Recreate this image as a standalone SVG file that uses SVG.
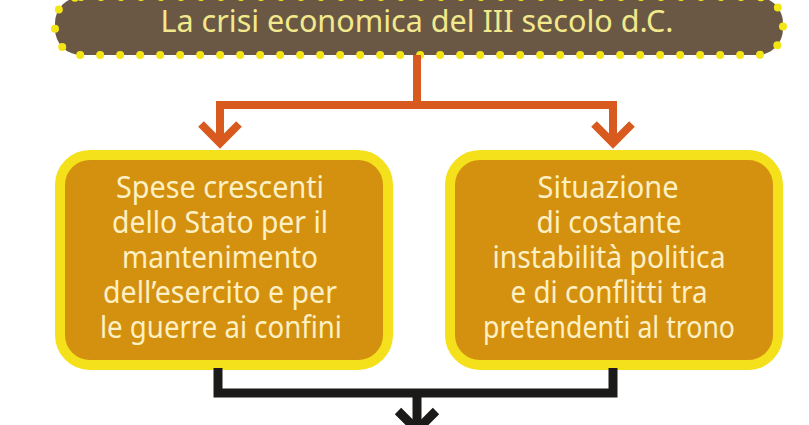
<svg xmlns="http://www.w3.org/2000/svg" width="809" height="425" viewBox="0 0 809 425">
<style>
.ttl{font-family:"Noto Sans","Open Sans",sans-serif;font-size:31px;fill:#f2e98c;text-anchor:middle}
.box{fill:#d4900f;stroke:#f4e11b;stroke-width:10}
.bt{font-family:"Noto Sans","Open Sans",sans-serif;font-size:30px;fill:#fdf0c4;text-anchor:middle}
.or{fill:none;stroke:#d85a1e;stroke-width:8}
.bk{fill:none;stroke:#1c1a18;stroke-width:9}
</style>
<rect width="809" height="425" fill="#ffffff"/>
<g id="title">
<rect x="55" y="-3" width="728" height="58" rx="26" fill="#6b5844" stroke="#f4e614" stroke-width="8" stroke-dasharray="0 20" stroke-linecap="round"/>
<text class="ttl" x="417" y="32" textLength="513" lengthAdjust="spacingAndGlyphs">La crisi economica del III secolo d.C.</text>
</g>
<g id="box-left">
<rect class="box" x="60" y="155" width="328" height="210" rx="30"/>
<text class="bt" x="220" y="198" textLength="208" lengthAdjust="spacingAndGlyphs">Spese crescenti</text>
<text class="bt" x="220" y="233" textLength="216" lengthAdjust="spacingAndGlyphs">dello Stato per il</text>
<text class="bt" x="220" y="268" textLength="196" lengthAdjust="spacingAndGlyphs">mantenimento</text>
<text class="bt" x="220" y="303" textLength="234" lengthAdjust="spacingAndGlyphs">dell’esercito e per</text>
<text class="bt" x="221" y="338" textLength="242" lengthAdjust="spacingAndGlyphs">le guerre ai confini</text>
</g>
<g id="box-right">
<rect class="box" x="450" y="155" width="328" height="210" rx="30"/>
<text class="bt" x="608" y="198" textLength="141" lengthAdjust="spacingAndGlyphs">Situazione</text>
<text class="bt" x="609" y="233" textLength="145" lengthAdjust="spacingAndGlyphs">di costante</text>
<text class="bt" x="609" y="268" textLength="233" lengthAdjust="spacingAndGlyphs">instabilità politica</text>
<text class="bt" x="609" y="303" textLength="197" lengthAdjust="spacingAndGlyphs">e di conflitti tra</text>
<text class="bt" x="609" y="338" textLength="252" lengthAdjust="spacingAndGlyphs">pretendenti al trono</text>
</g>
<g id="connectors">
<path class="or" d="M417 55 V105 M216 105 H617 M220 105 V142 M613 105 V142"/>
<polyline class="or" points="201,124 220,143 239,124"/>
<polyline class="or" points="594,124 613,143 632,124"/>
<path class="bk" d="M218 368 V393 M213.5 393 H617.5 M613 368 V393 M417 393 V428"/>
<polyline class="bk" points="398,411 417,430 436,411"/>
</g>
</svg>
